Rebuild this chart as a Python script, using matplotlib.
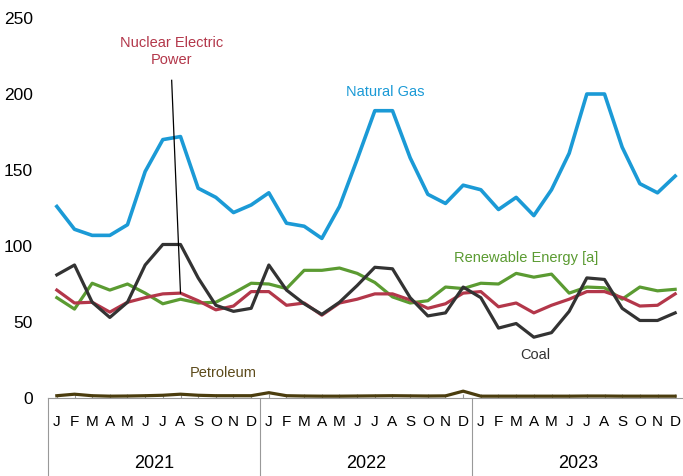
import numpy as np
import matplotlib.pyplot as plt
import matplotlib.transforms as mtransforms

plt.rcParams['font.family'] = ['Liberation Sans', 'DejaVu Sans']

months = ['J', 'F', 'M', 'A', 'M', 'J', 'J', 'A', 'S', 'O', 'N', 'D'] * 3
years = ['2021', '2022', '2023']

natural_gas = [126, 111, 107, 107, 114, 149, 170, 172, 138, 132, 122, 127,
               135, 115, 113, 105, 126, 157, 189, 189, 158, 134, 128, 140,
               137, 124, 132, 120, 137, 161, 200, 200, 165, 141, 135, 146]
coal = [81, 87.5, 63, 53, 63, 87.5, 101, 101, 79, 61, 57, 59,
        87.5, 71, 62, 55, 63, 74, 86, 85, 66, 54, 56, 73,
        66, 46, 49, 40, 43, 57, 79, 78, 59, 51, 51, 56]
nuclear = [71, 62.5, 63, 56.5, 63, 66, 68.5, 69, 64, 58, 60.5, 70,
           70, 61, 62.5, 54.5, 62.5, 65, 68.5, 68.5, 64.5, 59, 62, 69,
           70, 60, 62.5, 56, 61, 65, 70, 70, 66, 60.5, 61, 68.5]
renewable = [66, 58.5, 75.5, 71, 75, 69, 62, 65, 62.5, 63, 69, 75.5,
             75, 72, 84, 84, 85.5, 82, 76, 66.5, 62.5, 64, 73, 72,
             75.5, 75, 82, 79.5, 81.5, 69, 73, 72.5, 65, 73, 70.5, 71.5]
petroleum = [1.5, 2.5, 1.5, 1.2, 1.3, 1.5, 1.8, 2.5, 1.8, 1.5, 1.5, 1.5,
             3.5, 1.5, 1.3, 1.2, 1.2, 1.3, 1.4, 1.5, 1.4, 1.3, 1.4, 4.5,
             1.2, 1.2, 1.2, 1.2, 1.2, 1.2, 1.3, 1.3, 1.2, 1.2, 1.2, 1.2]

x = np.arange(len(months))

fig = plt.figure(figsize=(6.83, 4.76), dpi=100)
ax = fig.add_axes([48/683, 78/476, 636/683, 380/476])

ax.plot(x, natural_gas, color='#1B9AD6', lw=2.6, clip_on=False)
ax.plot(x, renewable, color='#5B9B32', lw=2.3, clip_on=False)
ax.plot(x, nuclear, color='#B3374A', lw=2.3, clip_on=False)
ax.plot(x, coal, color='#333333', lw=2.3, clip_on=False)
ax.plot(x, petroleum, color='#4B3D0E', lw=2.3, clip_on=False)

ax.set_xlim(-0.5, 35.5)
ax.set_ylim(0, 250)
ax.set_yticks([0, 50, 100, 150, 200, 250])
ax.tick_params(axis='y', length=0, labelsize=12.5, pad=11)
ax.set_xticks(x)
ax.set_xticklabels(months, fontsize=11)
ax.tick_params(axis='x', direction='in', length=3, color='#999999', pad=12)

for s in ['top', 'right', 'left']:
    ax.spines[s].set_visible(False)
ax.spines['bottom'].set_color('#999999')
ax.spines['bottom'].set_linewidth(0.8)

# year group separators and labels
trans = mtransforms.blended_transform_factory(ax.transData, ax.transAxes)
for b in [-0.5, 11.5, 23.5]:
    ax.plot([b, b], [0, -0.21], color='#999999', lw=0.8, transform=trans, clip_on=False)
for i, yr in enumerate(years):
    ax.text(5.5 + 12 * i, -0.172, yr, transform=trans, ha='center', va='center', fontsize=13)

# series labels
ax.text(6.5, 228, 'Nuclear Electric\nPower', color='#B3374A', ha='center', va='center',
        fontsize=10.5, linespacing=1.3)
ax.plot([6.5, 7], [209, 69], color='black', lw=0.9)
ax.text(18.6, 201, 'Natural Gas', color='#1B9AD6', ha='center', va='center', fontsize=10.5)
ax.text(22.5, 92, 'Renewable Energy [a]', color='#5B9B32', ha='left', va='center', fontsize=10.5)
ax.text(27.1, 28, 'Coal', color='#333333', ha='center', va='center', fontsize=10.5)
ax.text(9.4, 16.5, 'Petroleum', color='#5C4A1A', ha='center', va='center', fontsize=10.5)

plt.savefig('out.png', dpi=100)
